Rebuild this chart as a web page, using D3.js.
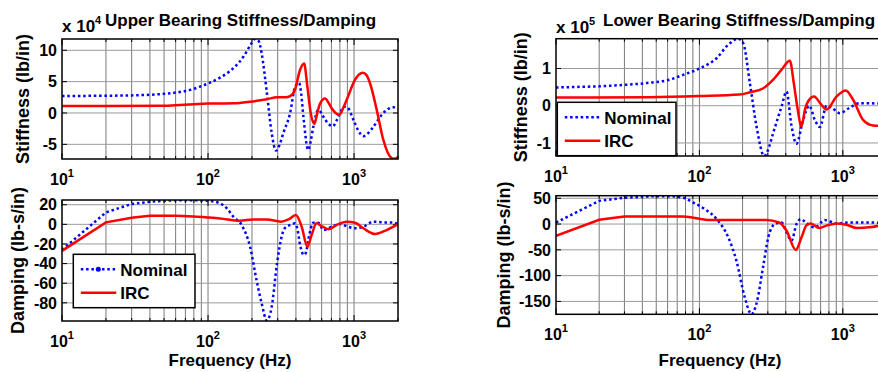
<!DOCTYPE html>
<html>
<head>
<meta charset="utf-8">
<script src="https://cdn.jsdelivr.net/npm/d3@7"></script>
<style>
  body { margin: 0; background: #fff; }
  svg text { font-family: "Liberation Sans", Arial, sans-serif; font-weight: bold; fill: #000; }
</style>
</head>
<body>
<svg id="chart" width="878" height="372"></svg>
<script>
// ---- data (frequency in Hz) ----
// upper bearing stiffness, x 10^4 lb/in
const upStiffNomFreq = [10, 20, 30, 40, 50, 60, 70, 80, 90, 100, 120, 140, 150, 175, 195, 210, 222, 233, 253, 273, 292, 310, 328, 365, 395, 420, 435, 450, 486, 505, 526, 570, 617, 660, 715, 760, 802, 860, 900, 990, 1070, 1158, 1250, 1357, 1587, 1857, 2000];
const upStiffNom = [2.7, 2.75, 2.8, 2.9, 3.05, 3.25, 3.5, 3.85, 4.3, 4.7, 5.6, 6.6, 7.2, 9.0, 10.8, 11.8, 11.5, 9.5, 3.2, -3.2, -6.0, -5.0, -3.2, 0, 4.2, 4.8, 3.0, -0.6, -5.9, -4.5, -2.2, 0.5, -0.6, -1.6, -2.1, -1.2, 0, 1.0, 0.9, -1.1, -2.8, -3.7, -3.2, -2.2, 0, 0.9, 0.6];
const upStiffIrcFreq = [10, 50, 60, 80, 100, 150, 194, 253, 297, 340, 365, 394, 427, 455, 479, 505, 535, 560, 585, 633, 670, 703, 793, 850, 891, 1016, 1148, 1220, 1288, 1430, 1587, 1811, 1900, 2000];
const upStiffIrc = [1.1, 1.15, 1.25, 1.4, 1.5, 1.55, 1.8, 2.2, 2.5, 2.5, 2.7, 3.7, 6.9, 7.9, 4.2, 0, -1.75, 0, 1.5, 2.3, 1.6, 0.75, -0.3, 1.0, 2.1, 5.3, 6.4, 6.0, 4.7, 0.5, -4.3, -7.2, -7.3, -7.0];
// upper bearing damping, lb-s/in
const upDampNomFreq = [10, 20, 30, 40, 50, 60, 80, 100, 121, 135, 149, 170, 194, 215, 233, 253, 273, 297, 321, 345, 365, 394, 410, 427, 455, 470, 486, 526, 570, 617, 660, 703, 802, 912, 1016, 1158, 1357, 1587, 1857, 2000];
const upDampNom = [-26, 12.2, 20.7, 23, 24, 24.5, 24.5, 24, 21.4, 16, 7.8, -0.7, -22.8, -57, -80.6, -98, -84, -39.8, -11, -2, -0.7, 1, -5, -21, -31.3, -28, -16, 1.7, 1.7, -5.8, -4.5, -2.5, 0.3, -2.5, -4, -2.5, 2.7, 2, 1.7, 0.3];
const upDampIrcFreq = [10, 20, 30, 40, 60, 80, 100, 121, 165, 205, 253, 316, 355, 400, 438, 479, 512, 553, 600, 666, 758, 891, 1016, 1158, 1392, 1670, 2000];
const upDampIrc = [-27, 2, 6.8, 8.7, 8.7, 8, 7, 6, 3.7, 5, 5, 2.7, 5, 9.5, -2.5, -22.8, -11, 1, -1.7, -5, -0.7, 2.7, 1.7, -4, -9.9, -5.8, 0.3];
// lower bearing stiffness, x 10^5 lb/in
const loStiffNomFreq = [10, 20, 30, 43, 62, 77, 100, 132, 159, 186, 202, 225, 250, 283, 300, 327, 374, 405, 439, 475, 529, 583, 638, 692, 770, 834, 953, 1119, 1313, 1717, 2000];
const loStiffNom = [0.49, 0.52, 0.56, 0.61, 0.7, 0.83, 1.0, 1.28, 1.64, 1.8, 1.68, 0.6, -0.55, -1.35, -1.2, -0.73, -0.02, 0.38, -0.55, -1.02, -0.38, 0, -0.38, -0.57, 0, -0.05, -0.2, -0.05, 0.07, 0.06, 0.05];
const loStiffIrcFreq = [10, 45, 100, 190, 225, 279, 327, 374, 427, 455, 480, 515, 545, 573, 631, 700, 770, 906, 1048, 1180, 1384, 1625, 2000];
const loStiffIrc = [0.22, 0.23, 0.26, 0.3, 0.36, 0.47, 0.7, 0.97, 1.21, 0.61, 0, -0.55, -0.1, 0.12, 0.25, 0.05, -0.1, 0.25, 0.41, 0.16, -0.38, -0.53, -0.55];
// lower bearing damping, lb-s/in
const loDampNomFreq = [10, 20, 30, 40, 50, 60, 77, 90, 109, 132, 159, 181, 207, 231, 250, 279, 302, 336, 374, 405, 439, 475, 510, 561, 638, 748, 906, 1119, 1528, 2000];
const loDampNom = [3, 45, 51, 53, 54, 54, 51, 42, 29, 9.6, -25.8, -70.8, -141.7, -175, -154, -80.5, -25.8, 0, 3, -16, -32, 0, 9.6, 1.3, -6.4, 7.7, 1.3, 3, 3, 1.3];
const loDampIrcFreq = [10, 20, 30, 77, 118, 190, 291, 360, 405, 470, 515, 561, 598, 684, 770, 906, 1056, 1258, 1528, 2000];
const loDampIrc = [-22.6, 8.3, 14.7, 14.7, 7.7, 7.7, 7.7, 3, -13, -50.2, -25.8, -1.3, 1.3, -7.7, -3, 1.3, -1.3, -7.7, -6.4, 0];

const xExponents = [1, 2, 3];
const seriesNames = ['Nominal', 'IRC'];
const upStiffTicks = [-5, 0, 5, 10];
const upDampTicks = [-80, -60, -40, -20, 0, 20];
const loStiffTicks = [-1, 0, 1];
const loDampTicks = [-150, -100, -50, 0, 50];

const svg = d3.select('#chart');
const BLUE = '#0000ff', RED = '#ff0000';

function drawPanel(p) {
  const x = d3.scaleLog().domain([10, 2000]).range([p.left, p.right]);
  const y = d3.scaleLinear().domain(p.yDomain).range([p.bottom, p.top]);
  const g = svg.append('g');

  g.append('clipPath').attr('id', 'clip-' + p.id)
    .append('rect')
    .attr('x', p.left).attr('y', p.top)
    .attr('width', p.right - p.left).attr('height', p.bottom - p.top);

  // grid
  const xt = x.ticks();
  g.selectAll('.vgrid').data(xt.filter(d => d > 10 && d < 2000)).enter()
    .append('line')
    .attr('x1', d => x(d)).attr('x2', d => x(d))
    .attr('y1', p.top).attr('y2', p.bottom)
    .attr('stroke', '#7a7a7a').attr('stroke-width', 1);
  g.selectAll('.hgrid').data(p.yTicks).enter()
    .append('line')
    .attr('x1', p.left).attr('x2', p.right)
    .attr('y1', d => y(d)).attr('y2', d => y(d))
    .attr('stroke', '#9a9a9a').attr('stroke-width', 1);

  // inward tick marks on all four sides
  const isMajor = d => Math.abs(Math.log10(d) - Math.round(Math.log10(d))) < 1e-9;
  xt.forEach(d => {
    const len = isMajor(d) ? 6 : 3;
    g.append('line').attr('x1', x(d)).attr('x2', x(d)).attr('y1', p.bottom).attr('y2', p.bottom - len).attr('stroke', '#000');
    g.append('line').attr('x1', x(d)).attr('x2', x(d)).attr('y1', p.top).attr('y2', p.top + len).attr('stroke', '#000');
  });
  p.yTicks.forEach(d => {
    g.append('line').attr('x1', p.left).attr('x2', p.left + 5).attr('y1', y(d)).attr('y2', y(d)).attr('stroke', '#000');
    g.append('line').attr('x1', p.right).attr('x2', p.right - 5).attr('y1', y(d)).attr('y2', y(d)).attr('stroke', '#000');
  });

  // curves: coarse samples below 40 Hz are joined straight, the rest smoothed
  const lin = d3.line().x(d => x(d[0])).y(d => y(d[1]));
  const smooth = d3.line().x(d => x(d[0])).y(d => y(d[1])).curve(d3.curveMonotoneX);
  const pathFor = (freq, vals) => {
    const pts = d3.zip(freq, vals);
    const k = d3.max(pts.map((d, i) => d[0] <= 40 ? i : 0));
    const head = lin(pts.slice(0, k + 1));
    const tail = smooth(pts.slice(k));
    return head + tail.replace(/^M/, 'L');
  };
  const curves = g.append('g').attr('clip-path', 'url(#clip-' + p.id + ')');
  curves.append('path')
    .attr('d', pathFor(p.nomFreq, p.nom))
    .attr('fill', 'none').attr('stroke', BLUE).attr('stroke-width', 2.5)
    .attr('stroke-dasharray', '2.5,2.8');
  curves.append('path')
    .attr('d', pathFor(p.ircFreq, p.irc))
    .attr('fill', 'none').attr('stroke', RED).attr('stroke-width', 2.5);

  // box
  g.append('rect')
    .attr('x', p.left).attr('y', p.top)
    .attr('width', p.right - p.left).attr('height', p.bottom - p.top)
    .attr('fill', 'none').attr('stroke', '#000').attr('stroke-width', 1.5);

  // tick labels
  g.selectAll('.ylab').data(p.yTicks).enter()
    .append('text')
    .attr('x', p.left - 5).attr('y', d => y(d)).attr('dy', '0.36em')
    .attr('text-anchor', 'end').style('font-size', '16px')
    .text(d => d);
  xExponents.forEach(e => {
    const t = g.append('text')
      .attr('x', x(Math.pow(10, e))).attr('y', p.bottom + 26)
      .attr('text-anchor', 'middle').style('font-size', '16px');
    t.append('tspan').text('10');
    t.append('tspan').attr('dy', -8).style('font-size', '11px').text(e);
  });

  // axis label
  g.append('text')
    .attr('transform', 'translate(' + p.ylabelX + ',' + (p.top + p.bottom) / 2 + ') rotate(-90)')
    .attr('text-anchor', 'middle').style('font-size', '18px')
    .text(p.ylabel);

  if (p.legend) {
    const L = p.legend;
    const lg = g.append('g');
    lg.append('rect')
      .attr('x', L.x).attr('y', L.y).attr('width', L.w).attr('height', L.h)
      .attr('fill', '#fff').attr('stroke', '#000').attr('stroke-width', 1.5);
    [BLUE, RED].forEach((c, i) => {
      const ly = L.y + 15 + i * 23.5;
      lg.append('line')
        .attr('x1', L.x + 7.5).attr('x2', L.x + 43).attr('y1', ly).attr('y2', ly)
        .attr('stroke', c).attr('stroke-width', 2.5)
        .attr('stroke-dasharray', i === 0 ? '2.5,2.8' : null);
      if (i === 0 && L.marker) {
        lg.append('circle').attr('cx', L.x + 25).attr('cy', ly).attr('r', 2.5).attr('fill', c);
      }
      lg.append('text')
        .attr('x', L.x + 47).attr('y', ly + 6.5)
        .style('font-size', '17px')
        .text(seriesNames[i]);
    });
  }
  return x;
}

// upper bearing, left column
drawPanel({
  id: 'us', left: 62, right: 398, top: 39, bottom: 159,
  yDomain: [-7.34, 11.8], yTicks: upStiffTicks, ylabel: 'Stiffness (lb/in)', ylabelX: 29,
  nomFreq: upStiffNomFreq, nom: upStiffNom, ircFreq: upStiffIrcFreq, irc: upStiffIrc
});
drawPanel({
  id: 'ud', left: 62, right: 398, top: 200, bottom: 321,
  yDomain: [-98.5, 24.8], yTicks: upDampTicks, ylabel: 'Damping (lb-s/in)', ylabelX: 24,
  nomFreq: upDampNomFreq, nom: upDampNom, ircFreq: upDampIrcFreq, irc: upDampIrc,
  legend: { x: 73.3, y: 254.3, w: 121.7, h: 53.4, marker: true }
});
// lower bearing, right column (runs past the picture edge)
drawPanel({
  id: 'ls', left: 556, right: 886, top: 38.7, bottom: 156,
  yDomain: [-1.35, 1.8], yTicks: loStiffTicks, ylabel: 'Stiffness (lb/in)', ylabelX: 527,
  nomFreq: loStiffNomFreq, nom: loStiffNom, ircFreq: loStiffIrcFreq, irc: loStiffIrc,
  legend: { x: 557.3, y: 102.3, w: 118.7, h: 53.4, marker: false }
});
drawPanel({
  id: 'ld', left: 556, right: 886, top: 195.7, bottom: 314.3,
  yDomain: [-175, 55], yTicks: loDampTicks, ylabel: 'Damping (lb-s/in)', ylabelX: 510,
  nomFreq: loDampNomFreq, nom: loDampNom, ircFreq: loDampIrcFreq, irc: loDampIrc
});

// titles, exponent notes and x labels
function expNote(x0, y0, e) {
  const t = svg.append('text').attr('x', x0).attr('y', y0).style('font-size', '17px');
  t.append('tspan').text('x 10');
  t.append('tspan').attr('dy', -8).style('font-size', '11px').text(e);
}
expNote(62, 32, 4);
expNote(556, 33, 5);
svg.append('text').attr('x', 105).attr('y', 26).style('font-size', '17px')
  .text('Upper Bearing Stiffness/Damping');
svg.append('text').attr('x', 603).attr('y', 26).style('font-size', '17px')
  .text('Lower Bearing Stiffness/Damping');
svg.append('text').attr('x', 230).attr('y', 366).attr('text-anchor', 'middle').style('font-size', '17px')
  .text('Frequency (Hz)');
svg.append('text').attr('x', 720).attr('y', 366).attr('text-anchor', 'middle').style('font-size', '17px')
  .text('Frequency (Hz)');
</script>
</body>
</html>
